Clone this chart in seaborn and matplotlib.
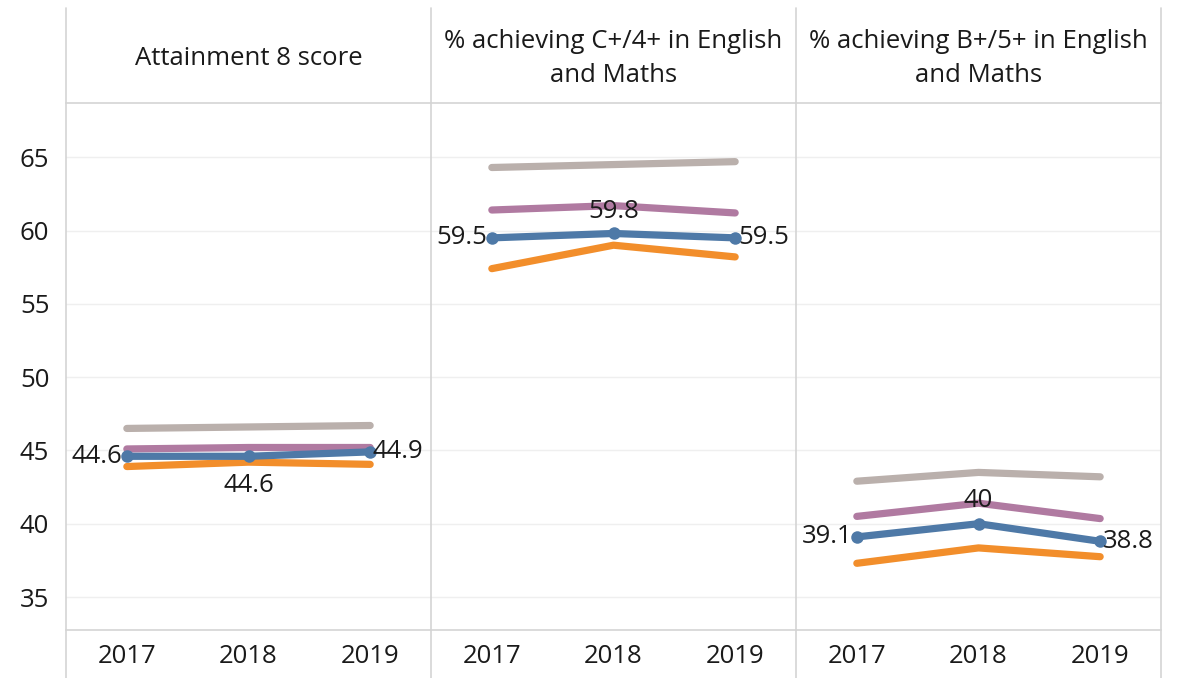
import numpy as np
import pandas as pd
import matplotlib
matplotlib.use("Agg")
import matplotlib.pyplot as plt
import seaborn as sns

# ---- data ----
years = ["2017", "2018", "2019"]
panel_titles = ["Attainment 8 score",
                "% achieving C+/4+ in English\nand Maths",
                "% achieving B+/5+ in English\nand Maths"]

grey_vals = [[46.5, 46.6, 46.7], [64.3, 64.5, 64.7], [42.9, 43.5, 43.2]]
purple_vals = [[45.1, 45.2, 45.2], [61.4, 61.7, 61.2], [40.5, 41.4, 40.35]]
blue_vals = [[44.6, 44.6, 44.9], [59.5, 59.8, 59.5], [39.1, 40.0, 38.8]]
orange_vals = [[43.9, 44.2, 44.05], [57.4, 59.0, 58.2], [37.3, 38.35, 37.75]]

series_names = ["grey", "purple", "blue", "orange"]
palette = {"grey": "#BAB0AC", "purple": "#B07AA1",
           "blue": "#4E79A7", "orange": "#F28E2B"}

rows = []
for p in range(3):
    for name, vals in zip(series_names, [grey_vals, purple_vals, blue_vals, orange_vals]):
        for y, v in zip(years, vals[p]):
            rows.append({"panel": p, "series": name, "year": y, "value": v})
df = pd.DataFrame(rows)

sns.set_style("white")
plt.rcParams["font.family"] = ["Open Sans", "DejaVu Sans"]
text_col = "#1A1A1A"
line_col = "#D4D4D4"
fs = 18.5

fig = plt.figure(figsize=(11.8, 6.78), dpi=100)

left = 66 / 1180
pw = 365 / 1180
plot_bottom = 48 / 678
plot_h = 527 / 678
head_bottom = 575 / 678
head_h = 95 / 678

# label placement for the blue series: (ha, va, dx, dy) in points
label_pos = [
    [("right", "center", -3, 0), ("center", "top", 0, -12), ("left", "center", 2, 0)],
    [("right", "center", -3, 0), ("center", "bottom", 0, 7), ("left", "center", 2, 0)],
    [("right", "center", -3, 0), ("center", "bottom", 0, 8), ("left", "center", 2, 0)],
]

for p in range(3):
    x0 = left + p * pw
    ax = fig.add_axes([x0, plot_bottom, pw, plot_h])
    sub = df[df.panel == p]
    for name in series_names:
        d = sub[sub.series == name]
        sns.lineplot(data=d, x="year", y="value", color=palette[name], lw=5.2,
                     marker="o" if name == "blue" else None, markersize=9,
                     markeredgewidth=0, ax=ax, zorder=3 if name == "blue" else 2,
                     solid_capstyle="round")
    d = sub[sub.series == "blue"]
    for i, (y, v) in enumerate(zip(d.year, d.value)):
        ha, va, dx, dy = label_pos[p][i]
        ax.annotate(f"{v:g}", (i, v), xytext=(dx, dy), textcoords="offset points",
                    ha=ha, va=va, fontsize=fs, color=text_col, zorder=5)
    ax.set_xlim(-0.5, 2.5)
    ax.set_ylim(32.75, 68.7)
    ax.set_yticks([35, 40, 45, 50, 55, 60, 65])
    ax.set_xlabel("")
    ax.set_ylabel("")
    ax.grid(axis="y", color="#EFEFEF", lw=1)
    ax.set_xticks([0.5, 1.5], minor=True)
    ax.tick_params(axis="x", which="major", length=0, pad=10, labelsize=fs,
                   colors=text_col)
    ax.tick_params(axis="x", which="minor", length=8, color="#EAEAEA", width=1)
    if p == 0:
        ax.tick_params(axis="y", length=9, color="#EFEFEF", pad=3, labelsize=fs,
                       colors=text_col)
    else:
        ax.tick_params(axis="y", length=0, labelleft=False)
    for s in ["right", "left"]:
        ax.spines[s].set_visible(False)
    for s in ["top", "bottom"]:
        ax.spines[s].set_color(line_col)
        ax.spines[s].set_linewidth(1.2)

    # header cell
    hax = fig.add_axes([x0, head_bottom, pw, head_h])
    hax.set_axis_off()
    hax.text(0.5, 0.47, panel_titles[p], ha="center", va="center", fontsize=fs,
             color=text_col, transform=hax.transAxes, linespacing=1.5)

# vertical dividers spanning header, plot and axis band
for k in range(4):
    xf = left + k * pw
    fig.add_artist(plt.Line2D([xf, xf], [0, 670 / 678], color=line_col, lw=1.2,
                              transform=fig.transFigure))

fig.savefig("out.png", dpi=100, facecolor="white")
